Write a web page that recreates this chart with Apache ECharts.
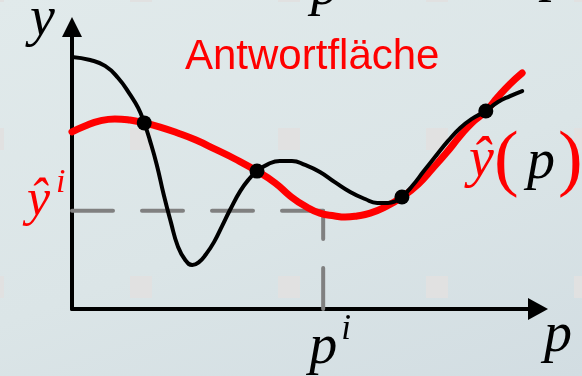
<!DOCTYPE html>
<html>
<head>
<meta charset="utf-8">
<script src="https://cdn.jsdelivr.net/npm/echarts@6/dist/echarts.min.js"></script>
<style>
  html, body { margin: 0; padding: 0; }
  #chart {
    width: 582px;
    height: 376px;
    background:
      url("data:image/svg+xml,%3Csvg xmlns='http://www.w3.org/2000/svg' width='148' height='148'%3E%3Crect width='22' height='22' fill='%23e1e1e1'/%3E%3C/svg%3E") 130px 128px / 148px 148px repeat,
      linear-gradient(160deg, #e1eaeb 0%, #dbe5e7 55%, #d2dde2 100%);
  }
</style>
</head>
<body>
<div id="chart"></div>
<script>
// True (unknown) function y(p), sampled along p
const trueP = [0, 0.39, 0.71, 0.99, 1.24, 1.42, 1.55, 1.67, 1.82, 1.97, 2.12, 2.27, 2.43, 2.58, 2.73,
               2.88, 3.05, 3.22, 3.39, 3.61, 3.80, 3.97, 4.21, 4.46, 4.72, 5.00, 5.32, 5.64, 5.97,
               6.29, 6.55, 6.78, 6.95, 7.08, 7.30, 7.55, 7.81, 8.07, 8.33, 8.58, 8.88, 9.14, 9.40, 9.66];
const trueY = [8.94, 8.83, 8.62, 8.19, 7.62, 7.13, 6.60, 5.99, 5.11, 4.04, 3.09, 2.23, 1.74, 1.56, 1.67,
               1.95, 2.38, 2.94, 3.51, 4.18, 4.61, 4.89, 5.14, 5.25, 5.25, 5.11, 4.86, 4.50, 4.15,
               3.90, 3.76, 3.76, 3.83, 3.97, 4.36, 4.89, 5.43, 5.96, 6.42, 6.74, 7.02, 7.34, 7.55, 7.73];

// Response surface ŷ(p) through the support points
const modelP = [0, 0.28, 0.60, 0.92, 1.24, 1.55, 1.89, 2.27, 2.66, 3.07, 3.50, 3.97, 4.36, 4.68, 5.00,
                5.32, 5.64, 5.86, 6.12, 6.40, 6.72, 7.08, 7.43, 7.73, 8.03, 8.33, 8.58, 8.88, 9.14, 9.40, 9.66];
const modelY = [6.28, 6.49, 6.67, 6.74, 6.70, 6.60, 6.45, 6.24, 5.99, 5.67, 5.32, 4.89, 4.47, 4.01, 3.65,
                3.40, 3.30, 3.26, 3.30, 3.40, 3.62, 3.97, 4.43, 4.97, 5.53, 6.14, 6.60, 7.02, 7.52, 7.98, 8.37];

// Support points where both curves meet
const sampleP = [1.55, 3.97, 7.08, 8.88];
const sampleY = [6.60, 4.89, 3.97, 7.02];

// Query point p^i and its predicted value ŷ^i
const queryP = 5.39;
const queryY = 3.48;

const zip = (xs, ys) => xs.map((x, i) => [x, ys[i]]);

const chart = echarts.init(document.getElementById('chart'), null, { renderer: 'canvas' });

const dashStyle = { color: '#808080', width: 4, type: [41, 29], cap: 'round', opacity: 1 };

chart.setOption({
  backgroundColor: 'transparent',
  animation: false,
  grid: { left: 72, right: 44, top: 27, bottom: 67, containLabel: false },
  xAxis: {
    type: 'value', min: 0, max: 10,
    axisLine: { show: true, onZero: true, symbol: ['none', 'triangle'], symbolSize: [22, 20],
                lineStyle: { color: '#000', width: 4, cap: 'round' } },
    axisTick: { show: false }, axisLabel: { show: false }, splitLine: { show: false }
  },
  yAxis: {
    type: 'value', min: 0, max: 10,
    axisLine: { show: true, onZero: true, symbol: ['none', 'triangle'], symbolSize: [20, 20],
                lineStyle: { color: '#000', width: 4, cap: 'round' } },
    axisTick: { show: false }, axisLabel: { show: false }, splitLine: { show: false }
  },
  series: [
    { type: 'line', data: [[0, queryY], [queryP, queryY]], symbol: 'none', lineStyle: dashStyle, z: 2, silent: true },
    { type: 'line', data: [[queryP, 0], [queryP, queryY]], symbol: 'none', lineStyle: dashStyle, z: 2, silent: true },
    { name: 'ŷ(p)', type: 'line', data: zip(modelP, modelY), smooth: 0.5, symbol: 'none',
      lineStyle: { color: '#ff0000', width: 7, cap: 'round', opacity: 1 }, z: 3 },
    { name: 'y(p)', type: 'line', data: zip(trueP, trueY), smooth: 0.5, symbol: 'none',
      lineStyle: { color: '#000000', width: 4, cap: 'round', opacity: 1 }, z: 4 },
    { type: 'scatter', data: zip(sampleP, sampleY), symbol: 'circle', symbolSize: 15,
      itemStyle: { color: '#000000', opacity: 1 }, z: 5 }
  ]
});

// Labels in serif italic math notation, placed relative to the axes
const SERIF = "'Liberation Serif', 'Times New Roman', serif";
function txt(text, x, baseline, size, color, opts) {
  opts = opts || {};
  return {
    type: 'text', x: x, y: baseline - 0.3 * size, z: 10, silent: true,
    style: {
      text: text, fontSize: size, fontFamily: opts.family || SERIF,
      fontStyle: opts.style || 'italic', fontWeight: 'normal', fill: color,
      align: opts.align || 'left', verticalAlign: 'middle'
    }
  };
}

const origin = chart.convertToPixel({ gridIndex: 0 }, [0, 0]);
const q = chart.convertToPixel({ gridIndex: 0 }, [queryP, queryY]);
const xEnd = chart.convertToPixel({ gridIndex: 0 }, [10, 0]);
const yEnd = chart.convertToPixel({ gridIndex: 0 }, [0, 10]);

chart.setOption({
  graphic: [
    txt('y', origin[0] - 42, yEnd[1] + 10, 56, '#000'),
    txt('p', xEnd[0] + 6, origin[1] + 44, 56, '#000'),
    txt('p', q[0], origin[1] + 56, 56, '#000', { align: 'center' }),
    txt('i', q[0] + 18, origin[1] + 31, 35, '#000'),
    txt('ŷ', origin[0] - 45, q[1] + 6, 52, '#ff0000'),
    txt('i', origin[0] - 16, q[1] - 18, 34, '#ff0000'),
    txt('ŷ', 469, 178, 56, '#ff0000'),
    txt('(', 494, 185, 74, '#ff0000', { style: 'normal' }),
    txt('p', 527, 180, 56, '#000'),
    txt(')', 558, 185, 74, '#ff0000', { style: 'normal' }),
    txt('Antwortfläche', 185, 70, 42, '#ff0000', { family: "'Liberation Sans', Arial, sans-serif", style: 'normal' }),
    txt('p', 311, 6, 56, '#000'),
    txt('p', 542, -8, 56, '#000')
  ]
});
</script>
</body>
</html>
